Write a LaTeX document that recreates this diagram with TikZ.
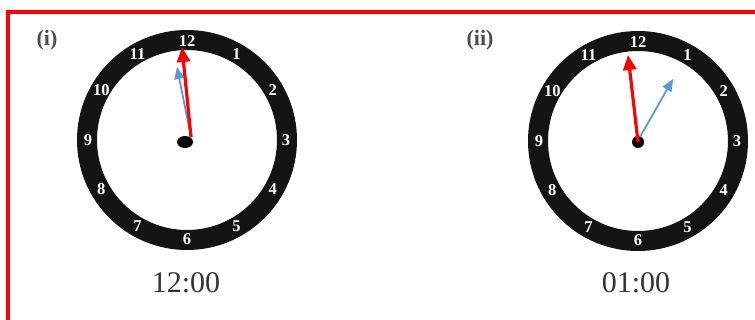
\documentclass[tikz,border=0pt]{standalone}
\usepackage{fontspec}
\setmainfont{Liberation Serif}
\usetikzlibrary{arrows.meta,shapes.geometric}
\definecolor{handblue}{RGB}{91,155,213}

\begin{document}
\begin{tikzpicture}[x=1pt,y=1pt,
    ring/.style={draw=black!92,line width=20pt},
    numlbl/.style={text=white,font=\bfseries\fontsize{16.5}{16.5}\selectfont,inner sep=0pt},
    hub/.style={ellipse,fill=black,inner sep=0pt},
    hourhand/.style={draw=red,line width=3.2pt,-{Triangle[length=15pt,width=13pt]}},
    minhand/.style={draw=handblue,line width=1.8pt,-{Triangle[length=12pt,width=10pt]}},
    timelbl/.style={text=black!80,font=\fontsize{30}{30}\selectfont},
    tag/.style={text=black!70,font=\bfseries\fontsize{22}{22}\selectfont}]
    \useasboundingbox (0,0) rectangle (755,320);
    \clip (0,0) rectangle (755,320);
    % red frame
    \draw[red,line width=4pt] (8,-10) -- (8,308) -- (765,308);

    % clock (i)
    \begin{scope}[shift={(187,180)}]
        \draw[ring] (0,0) circle (100);
        \foreach \n in {1,...,12} \node[numlbl] (a\n) at (90-30*\n:99) {\n};
        \node[hub,minimum width=16pt,minimum height=12pt] (hubA) at (-2,-2) {};
        \coordinate (baseA) at (4,3); \coordinate (minA) at (-10,73); \coordinate (hrA) at (-5,93);
        \draw[minhand] (baseA) -- (minA);
        \draw[hourhand] (baseA) -- (hrA);
    \end{scope}

    % clock (ii)
    \begin{scope}[shift={(638,179)}]
        \draw[ring] (0,0) circle (100);
        \foreach \n in {1,...,12} \node[numlbl] (b\n) at (90-30*\n:99) {\n};
        \node[hub,minimum width=12pt,minimum height=12pt] (hubB) at (0,-1) {};
        \coordinate (baseB) at (2,4); \coordinate (minB) at (35,62); \coordinate (hrB) at (-10,86);
        \draw[minhand] (baseB) -- (minB);
        \draw[hourhand] (hubB.center) -- (hrB);
    \end{scope}

    \node[tag] (tagA) at (47,280) {(i)};
    \node[tag] (tagB) at (480,280) {(ii)};
    \node[timelbl] (timeA) at (186,37) {12:00};
    \node[timelbl] (timeB) at (636,37) {01:00};
\end{tikzpicture}
\end{document}
